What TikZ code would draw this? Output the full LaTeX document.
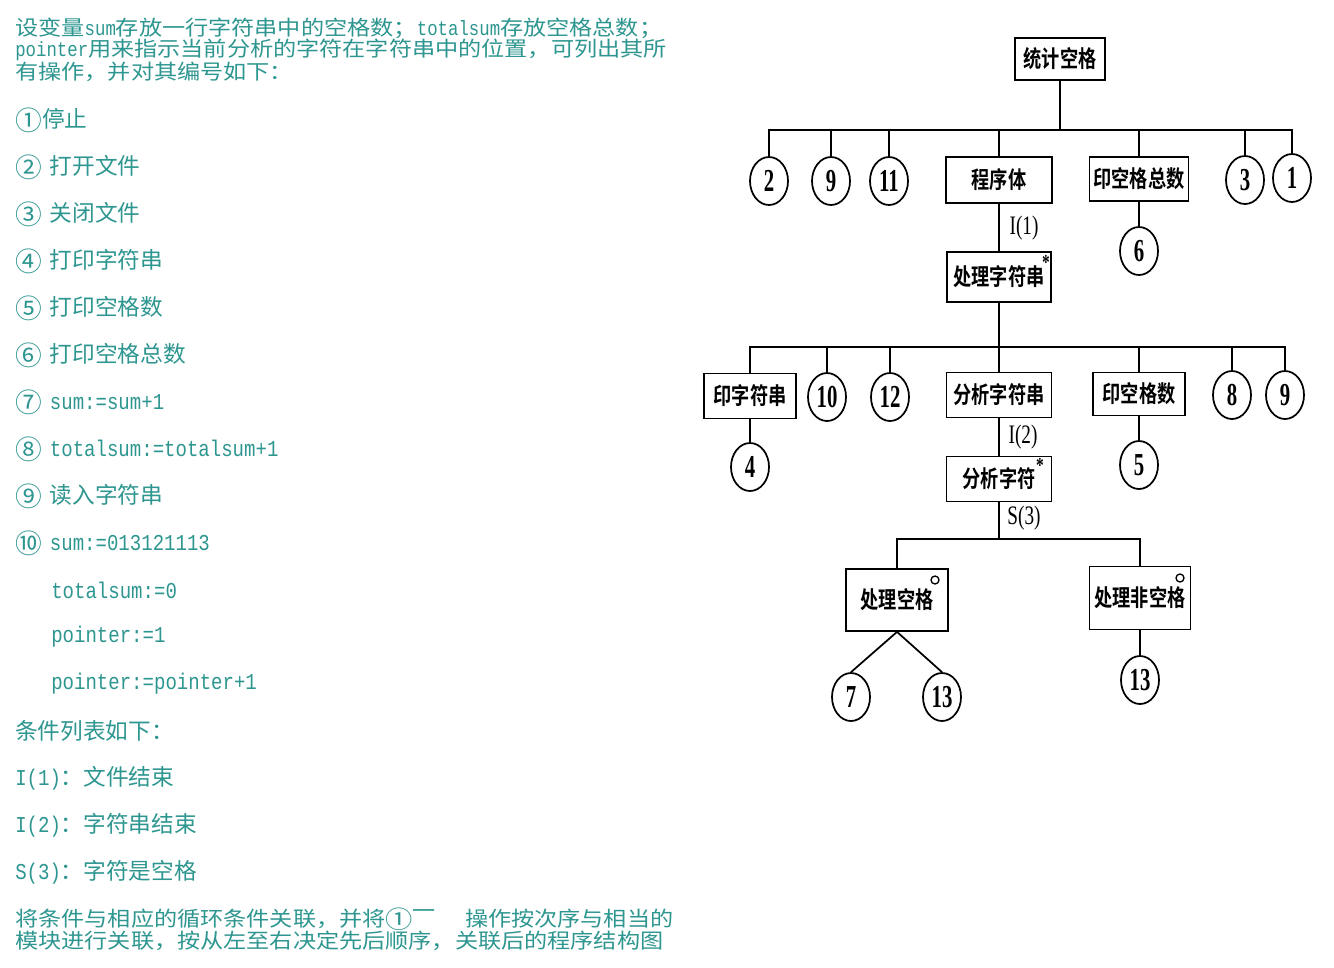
\documentclass[tikz,border=0pt]{standalone}
\usepackage{fontspec}
\usepackage{xcolor}
\usepackage{tikz}
\usetikzlibrary{positioning, shapes.geometric}
\setmainfont{Noto Sans CJK SC}
\newfontfamily\widecjk{Noto Sans CJK SC}[FakeStretch=1.12]
\newfontfamily\latfont{Liberation Mono}[FakeStretch=0.84]
\newfontfamily\boxfont{Noto Sans CJK SC Bold}[FakeStretch=0.78]
\newfontfamily\numfont{Liberation Serif}[FakeStretch=0.65]
\newfontfamily\lblfont{Liberation Serif}[FakeStretch=0.72]
\definecolor{txtteal}{HTML}{2E9690}
\newcommand{\lat}[1]{{\latfont #1}}
\newcommand{\cnum}[1]{\raisebox{-0.1em}{\scalebox{1.18}{#1}}}

\begin{document}
\begin{tikzpicture}[x=0.75pt, y=-0.75pt,
  txt/.style={anchor=west, inner sep=0pt, text=txtteal, font=\fontsize{17}{20}\selectfont},
  txtpar/.style={txt, font=\widecjk\fontsize{15.5}{18}\selectfont},
  modbox/.style 2 args={draw, line width=1.3pt, inner sep=0pt,
    minimum width=#1*0.75pt, minimum height=#2*0.75pt,
    font=\boxfont\fontsize{17.5}{20}\selectfont},
  opnode/.style={ellipse, draw, line width=1.3pt, inner sep=0pt,
    minimum width=28.5pt, minimum height=36pt, font=\numfont\bfseries\fontsize{24}{24}\selectfont},
  cond/.style={inner sep=0pt, font=\lblfont\fontsize{20}{20}\selectfont},
  starmark/.style={inner sep=0pt, font=\lblfont\bfseries\fontsize{16}{16}\selectfont},
  tree/.style={line width=1.3pt}]
  % page and margins
  \fill[white] (0,0) rectangle (1334,967);
  \useasboundingbox (0,0) rectangle (1334,967);

  % left column: operations and conditions
  \node[txtpar] (intro1) at (15,28) {设变量\lat{sum}存放一行字符串中的空格数；\lat{totalsum}存放空格总数；};
  \node[txtpar] (intro2) at (15,50) {\lat{pointer}用来指示当前分析的字符在字符串中的位置，可列出其所};
  \node[txtpar] (intro3) at (15,72) {有操作，并对其编号如下：};
  \foreach \t [count=\i] in {%
      \cnum{①}停止,
      \cnum{②}\hspace{0.35em}打开文件,
      \cnum{③}\hspace{0.35em}关闭文件,
      \cnum{④}\hspace{0.35em}打印字符串,
      \cnum{⑤}\hspace{0.35em}打印空格数,
      \cnum{⑥}\hspace{0.35em}打印空格总数,
      \cnum{⑦}\hspace{0.35em}\lat{sum:=sum+1},
      \cnum{⑧}\hspace{0.35em}\lat{totalsum:=totalsum+1},
      \cnum{⑨}\hspace{0.35em}读入字符串,
      \cnum{⑩}\hspace{0.35em}\lat{sum:=013121113},
      \hspace*{27pt}\lat{totalsum:=0},
      \hspace*{27pt}\lat{pointer:=1},
      \hspace*{27pt}\lat{pointer:=pointer+1},
      条件列表如下：,
      \lat{I(1)}：文件结束,
      \lat{I(2)}：字符串结束,
      \lat{S(3)}：字符是空格} {
    \node[txt] (op\i) at (15, 73+\i*47) {\t};
  }
  \node[txtpar] (note1) at (15,919) {将条件与相应的循环条件关联，并将\cnum{①}\raisebox{6pt}{一}\hspace{1.4em}操作按次序与相当的};
  \node[txtpar] (note2) at (15,941) {模块进行关联，按从左至右决定先后顺序，关联后的程序结构图};

  % right column: program structure tree
  \node[modbox={90}{42}] (root) at (1060,59) {统计空格};
  \coordinate (bus1) at (1060,130);
  \node[opnode] (n2) at (769,181) {2};
  \node[opnode] (n9) at (831,181) {9};
  \node[opnode] (n11) at (889,181) {11};
  \node[modbox={106}{46}] (body) at (999,180) {程序体};
  \node[modbox={99}{44}] (total) at (1139,179) {印空格总数};
  \node[opnode] (n3) at (1245,180) {3};
  \node[opnode] (n1) at (1292,178) {1};
  \draw[tree] (root.south) -- (root.south |- bus1);
  \foreach \n in {n2, n9, n11, body, total, n3, n1}
    \draw[tree] (\n.north) |- (bus1);

  \node[modbox={104}{50}] (strloop) at (999,277) {处理字符串\hspace{5pt}};
  \node[starmark] (star1) at (1046,262) {*};
  \node[cond] (lbl1) at (1024,228) {I(1)};
  \node[opnode] (n6) at (1139,251) {6};
  \draw[tree] (body.south) -- (strloop.north);
  \draw[tree] (total.south) -- (n6.north);

  \coordinate (bus2) at (999,347);
  \node[modbox={92}{45}] (printstr) at (750,396) {印字符串};
  \node[opnode] (n10) at (827,397) {10};
  \node[opnode] (n12) at (890,397) {12};
  \node[modbox={105}{45}] (parse) at (999,395) {分析字符串};
  \node[modbox={92}{43}] (count) at (1139,394) {印空格数};
  \node[opnode] (n8) at (1232,395) {8};
  \node[opnode] (n9b) at (1285,395) {9};
  \draw[tree] (strloop.south) -- (bus2);
  \foreach \n in {printstr, n10, n12, parse, count, n8, n9b}
    \draw[tree] (\n.north) |- (bus2);

  \node[opnode] (n4) at (750,467) {4};
  \node[opnode] (n5) at (1139,465) {5};
  \draw[tree] (printstr.south) -- (n4.north);
  \draw[tree] (count.south) -- (n5.north);

  \node[modbox={105}{45}] (charloop) at (999,479) {分析字符\hspace{4pt}};
  \node[starmark] (star2) at (1040,465) {*};
  \node[cond] (lbl2) at (1023,437) {I(2)};
  \node[cond] (lbl3) at (1024,518) {S(3)};
  \draw[tree] (parse.south) -- (charloop.north);

  \coordinate (bus3) at (999,539);
  \node[modbox={102}{62}] (space) at (897,600) {\raisebox{-3pt}{处理空格}};
  \node[modbox={101}{63}] (nonspace) at (1140,598) {\raisebox{-2pt}{处理非空格}};
  \draw[tree] (charloop.south) -- (bus3);
  \foreach \n in {space, nonspace}
    \draw[tree] (\n.north) |- (bus3);
  \draw[line width=1pt] (935,580) circle[radius=3pt];
  \draw[line width=1pt] (1180,578) circle[radius=3pt];

  \node[opnode] (n7) at (851,697) {7};
  \node[opnode] (n13a) at (942,697) {13};
  \node[opnode] (n13b) at (1140,680) {13};
  \draw[tree] (space.south) -- (n7.north);
  \draw[tree] (space.south) -- (n13a.north);
  \draw[tree] (nonspace.south) -- (n13b.north);
\end{tikzpicture}
\end{document}
